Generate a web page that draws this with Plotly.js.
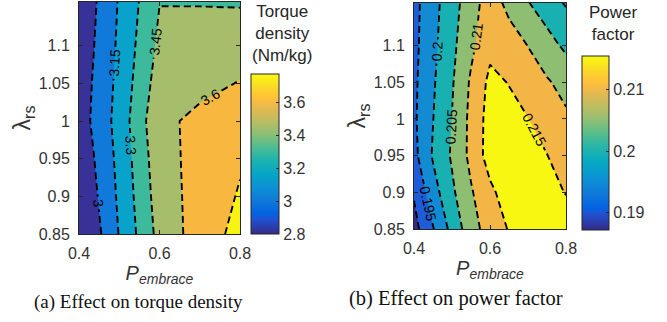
<!DOCTYPE html>
<html>
<head>
<meta charset="utf-8">
<script src="https://cdn.plot.ly/plotly-3.0.1.min.js"></script>
<style>
html, body { margin: 0; padding: 0; background: #ffffff; }
#chart { width: 667px; height: 322px; }
</style>
</head>
<body>
<div id="chart"></div>
<script>
// ---------------- data ----------------
// (a) torque density (Nm/kg) over P_embrace (columns) and lambda_rs (rows)
const xEmbraceTorque = [0.4, 0.5, 0.6, 0.7, 0.8];
const yLambda = [0.85, 0.9, 0.95, 1.0, 1.05, 1.1, 1.16];
const torqueDensity = [
  [2.805, 3.157, 3.499, 3.670, 3.797],
  [2.848, 3.176, 3.523, 3.660, 3.762],
  [2.882, 3.191, 3.544, 3.650, 3.735],
  [2.920, 3.207, 3.572, 3.628, 3.660],
  [2.910, 3.192, 3.523, 3.569, 3.605],
  [2.892, 3.177, 3.484, 3.530, 3.555],
  [2.873, 3.162, 3.445, 3.438, 3.430]
];
const torqueLevels = {start: 3.0, end: 3.75, size: 0.15};
const torqueRange = [2.8, 3.77];
const torqueCbTicks = [2.8, 3.0, 3.2, 3.4, 3.6];
const torqueCbText = ['2.8', '3', '3.2', '3.4', '3.6'];

// (b) power factor over P_embrace (columns) and lambda_rs (rows)
const xEmbracePF = [0.4, 0.45, 0.5, 0.55, 0.6, 0.65, 0.7, 0.75, 0.8];
const powerFactor = [
  [0.1883, 0.1947, 0.2015, 0.2080, 0.2122, 0.2153, 0.2165, 0.2167, 0.2162],
  [0.1905, 0.1979, 0.2041, 0.2095, 0.2139, 0.2175, 0.2172, 0.2158, 0.2149],
  [0.1936, 0.2005, 0.2056, 0.2113, 0.2172, 0.2175, 0.2170, 0.2151, 0.2126],
  [0.1942, 0.1999, 0.2051, 0.2113, 0.2170, 0.2166, 0.2151, 0.2130, 0.2108],
  [0.1940, 0.1994, 0.2045, 0.2107, 0.2162, 0.2148, 0.2126, 0.2105, 0.2084],
  [0.1937, 0.1988, 0.2038, 0.2089, 0.2137, 0.2125, 0.2099, 0.2069, 0.2040],
  [0.1935, 0.1983, 0.2030, 0.2077, 0.2125, 0.2084, 0.2051, 0.2022, 0.1994]
];
const pfLevels = {start: 0.19, end: 0.215, size: 0.005};
const pfRange = [0.1872, 0.2155];
const pfCbTicks = [0.19, 0.2, 0.21];
const pfCbText = ['0.19', '0.2', '0.21'];

// axis ticks
const xTickVals = [0.4, 0.6, 0.8];
const xTickText = ['0.4', '0.6', '0.8'];
const yTickVals = [0.85, 0.9, 0.95, 1.0, 1.05, 1.1];
const yTickText = ['0.85', '0.9', '0.95', '1', '1.05', '1.1'];

// texts
const xTitle = '<i>P</i><sub><i>embrace</i></sub>';
const yTitle = 'λ<sub>rs</sub>';
const torqueCbTitle = 'Torque<br>density<br>(Nm/kg)';
const pfCbTitle = 'Power<br>factor';
const captionA = '(a) Effect on torque density';
const captionB = '(b) Effect on power factor';

// ---------------- styling ----------------
const parula = [
  [0.2081, 0.1663, 0.5292], [0.1253, 0.3242, 0.8303], [0.0117, 0.3875, 0.8820],
  [0.0629, 0.4737, 0.8554], [0.0488, 0.5772, 0.8228], [0.0228, 0.6535, 0.7768],
  [0.1133, 0.7015, 0.6859], [0.3022, 0.7376, 0.5712], [0.5300, 0.7491, 0.4661],
  [0.7184, 0.7411, 0.3905], [0.8824, 0.7274, 0.3217], [0.9739, 0.7314, 0.2666],
  [0.9990, 0.7653, 0.2164], [0.9789, 0.8271, 0.1633], [0.9763, 0.9831, 0.0538]
];
const parulaIdx = [0, 6, 8, 13, 19, 24, 29, 34, 39, 44, 49, 52, 54, 57, 63];
const parulaScale = parula.map((c, i) => [parulaIdx[i] / 63,
  'rgb(' + c.map(v => Math.round(v * 255)).join(',') + ')']);

const torqueBands = ['rgb(56,50,152)', 'rgb(16,121,218)', 'rgb(8,162,203)', 'rgb(61,186,155)',
                     'rgb(166,190,107)', 'rgb(248,184,64)', 'rgb(247,244,18)'];
const pfBands = ['rgb(53,42,135)', 'rgb(31,92,216)', 'rgb(18,139,210)', 'rgb(25,176,177)',
                 'rgb(141,190,114)', 'rgb(243,182,70)', 'rgb(248,247,18)'];
const bandScale = cols => cols.map((c, i) => [i / (cols.length - 1), c]);

const FONT = 'Liberation Sans, Arial, Helvetica, sans-serif';
const TXT = '#262626';

function heatTrace(x, y, z, rng, xa, ya, cb) {
  return {
    type: 'heatmap', x: x, y: y, z: z, xaxis: xa, yaxis: ya,
    zmin: rng[0], zmax: rng[1], colorscale: parulaScale, zsmooth: false,
    hoverinfo: 'skip', showscale: true, colorbar: cb
  };
}
function contourTrace(x, y, z, lv, bands, xa, ya) {
  return {
    type: 'contour', x: x, y: y, z: z, xaxis: xa, yaxis: ya,
    autocontour: false, showscale: false,
    contours: {start: lv.start, end: lv.end, size: lv.size, coloring: 'fill',
               showlabels: true, labelfont: {family: FONT, size: 14, color: '#000'}},
    colorscale: bandScale(bands),
    line: {color: '#000', width: 1.9, dash: '7px,4px', smoothing: 0},
    hoverinfo: 'skip'
  };
}
function cbar(xPx, bottomPx, lenPx, thick, vals, text) {
  return {
    x: xPx / 667, xanchor: 'left', xpad: 0,
    y: (322 - bottomPx) / 322, yanchor: 'bottom', ypad: 0,
    len: lenPx, lenmode: 'pixels', thickness: thick, thicknessmode: 'pixels',
    outlinewidth: 1, outlinecolor: TXT,
    tickmode: 'array', tickvals: vals, ticktext: text,
    ticks: 'inside', ticklen: 3, tickcolor: TXT,
    tickfont: {family: FONT, size: 16, color: '#333'}
  };
}

const data = [
  heatTrace(xEmbraceTorque, yLambda, torqueDensity, torqueRange, 'x', 'y',
            cbar(251, 234, 160, 28, torqueCbTicks, torqueCbText)),
  contourTrace(xEmbraceTorque, yLambda, torqueDensity, torqueLevels, torqueBands, 'x', 'y'),
  heatTrace(xEmbracePF, yLambda, powerFactor, pfRange, 'x2', 'y2',
            cbar(582, 230, 174, 27, pfCbTicks, pfCbText)),
  contourTrace(xEmbracePF, yLambda, powerFactor, pfLevels, pfBands, 'x2', 'y2')
];

function xax(domain) {
  return {
    domain: domain, range: [0.4, 0.8], tickmode: 'array', tickvals: xTickVals, ticktext: xTickText,
    showgrid: false, zeroline: false, showline: true, linecolor: TXT, linewidth: 1, mirror: 'ticks',
    ticks: 'inside', ticklen: 4, tickcolor: TXT, ticklabelstandoff: 5,
    tickfont: {family: FONT, size: 16, color: '#333'},
    title: {text: xTitle, font: {family: FONT, size: 20, color: '#333'}, standoff: 2},
    fixedrange: true
  };
}
function yax(domain, anchor) {
  return {
    domain: domain, range: [0.85, 1.158], tickmode: 'array', tickvals: yTickVals, ticktext: yTickText,
    showgrid: false, zeroline: false, showline: true, linecolor: TXT, linewidth: 1, mirror: 'ticks',
    ticks: 'inside', ticklen: 4, tickcolor: TXT, ticklabelstandoff: 5,
    tickfont: {family: FONT, size: 16, color: '#333'},
    title: {text: yTitle, font: {family: FONT, size: 23, color: '#333'}, standoff: 1},
    fixedrange: true, anchor: anchor
  };
}

const layout = {
  width: 667, height: 322,
  margin: {l: 0, r: 0, t: 0, b: 0},
  paper_bgcolor: '#ffffff', plot_bgcolor: '#ffffff',
  showlegend: false,
  xaxis: Object.assign(xax([79 / 667, 240 / 667]), {anchor: 'y'}),
  yaxis: yax([88 / 322, 320 / 322], 'x'),
  xaxis2: Object.assign(xax([414 / 667, 566 / 667]), {anchor: 'y2'}),
  yaxis2: yax([93 / 322, 319 / 322], 'x2'),
  annotations: [
    {text: torqueCbTitle, xref: 'paper', yref: 'paper', x: 282 / 667, y: (322 - 33) / 322,
     xanchor: 'center', yanchor: 'middle', showarrow: false,
     font: {family: FONT, size: 17, color: TXT}},
    {text: pfCbTitle, xref: 'paper', yref: 'paper', x: 613 / 667, y: (322 - 23.5) / 322,
     xanchor: 'center', yanchor: 'middle', showarrow: false,
     font: {family: FONT, size: 17, color: TXT}},
    {text: captionA, xref: 'paper', yref: 'paper', x: 138 / 667, y: (322 - 302) / 322,
     xanchor: 'center', yanchor: 'middle', showarrow: false,
     font: {family: 'Liberation Serif, Times New Roman, serif', size: 19, color: '#111'}},
    {text: captionB, xref: 'paper', yref: 'paper', x: 456 / 667, y: (322 - 298) / 322,
     xanchor: 'center', yanchor: 'middle', showarrow: false,
     font: {family: 'Liberation Serif, Times New Roman, serif', size: 20.5, color: '#111'}}
  ]
};

Plotly.newPlot('chart', data, layout, {staticPlot: true, displayModeBar: false});
</script>
</body>
</html>
